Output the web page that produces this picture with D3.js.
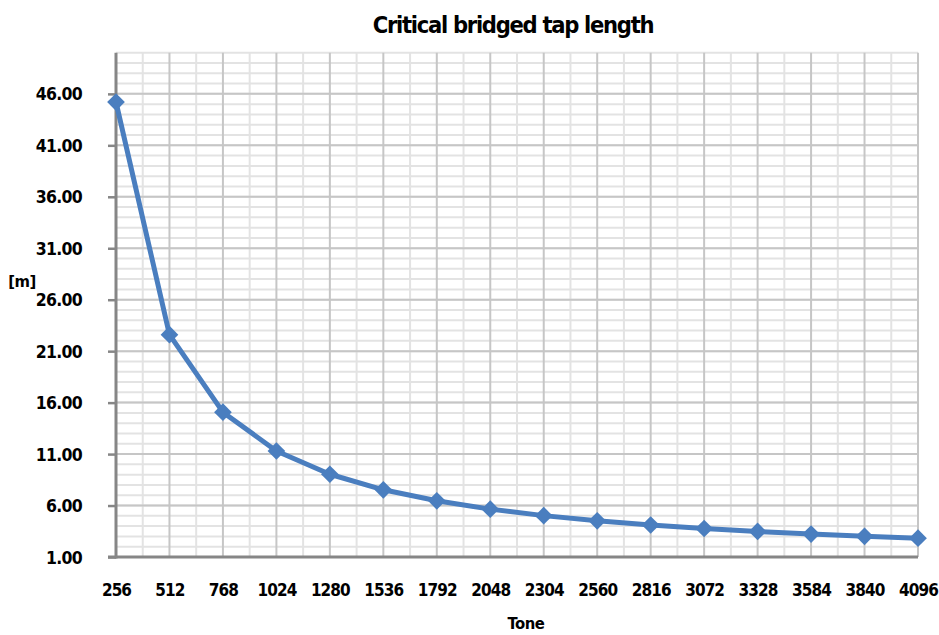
<!DOCTYPE html>
<html><head><meta charset="utf-8">
<script src="https://cdn.jsdelivr.net/npm/d3@7"></script>
<style>
body{margin:0;background:#fff;}
text{font-family:"DejaVu Sans Condensed","Liberation Sans Narrow",sans-serif;font-stretch:condensed;font-weight:bold;fill:#000;}
</style></head>
<body><svg id="c" width="939" height="635"></svg>
<script>
const tones = [256,512,768,1024,1280,1536,1792,2048,2304,2560,2816,3072,3328,3584,3840,4096];
const lengths = [45.2,22.6,15.07,11.3,9.04,7.53,6.46,5.65,5.02,4.52,4.11,3.77,3.48,3.23,3.01,2.83];
const yTicks = [1,6,11,16,21,26,31,36,41,46];
const yMinor = d3.range(1,51,1);
const title = "Critical bridged tap length";
const xTitle = "Tone";
const yTitle = "[m]";

const svg = d3.select("#c");
const L=116, R=918, T=52.7, B=557;
const x = d3.scalePoint().domain(tones).range([L,R]);
const y = d3.scaleLinear().domain([1,50]).range([B,T]);
const step = x.step();

const g = svg.append("g");
g.selectAll(".hmin").data(yMinor).enter().append("line")
 .attr("x1",L).attr("x2",R).attr("y1",d=>y(d)).attr("y2",d=>y(d))
 .attr("stroke","#e3e3e3").attr("stroke-width",2);
g.selectAll(".vmin").data(tones.slice(0,-1)).enter().append("line")
 .attr("x1",d=>x(d)+step/2).attr("x2",d=>x(d)+step/2).attr("y1",T).attr("y2",B)
 .attr("stroke","#e3e3e3").attr("stroke-width",2);
g.selectAll(".hmaj").data(yTicks).enter().append("line")
 .attr("x1",L).attr("x2",R).attr("y1",d=>y(d)).attr("y2",d=>y(d))
 .attr("stroke","#c6c6c6").attr("stroke-width",2);
g.selectAll(".vmaj").data(tones.slice(1)).enter().append("line")
 .attr("x1",d=>x(d)).attr("x2",d=>x(d)).attr("y1",T).attr("y2",B)
 .attr("stroke","#c6c6c6").attr("stroke-width",2);

const ya = svg.append("g").attr("transform",`translate(${L},0)`)
 .call(d3.axisLeft(y).tickValues(yTicks).tickSize(8).tickPadding(26).tickFormat(d3.format(".2f")));
ya.select(".domain").attr("stroke","#868686").attr("stroke-width",3).attr("d",`M0,${T}V${B+1.5}`);
ya.selectAll(".tick line").attr("stroke","#868686").attr("stroke-width",2.5);
ya.selectAll(".tick text").style("font-size","17.5px").style("letter-spacing","-0.7px").attr("dy","0.35em");

const xa = svg.append("g").attr("transform",`translate(0,${B})`)
 .call(d3.axisBottom(x).tickSize(0).tickPadding(27));
xa.select(".domain").attr("stroke","#868686").attr("stroke-width",3).attr("d",`M${L-8},0H${R}`);
xa.selectAll(".tick text").style("font-size","17px").style("letter-spacing","-0.9px");

svg.append("path").datum(tones.map((t,i)=>[t,lengths[i]]))
 .attr("fill","none").attr("stroke","#4a7ebf").attr("stroke-width",5).attr("stroke-linejoin","round")
 .attr("d",d3.line().x(d=>x(d[0])).y(d=>y(d[1])));
svg.selectAll(".pt").data(tones).enter().append("path")
 .attr("transform",(d,i)=>`translate(${x(d)},${y(lengths[i])})`)
 .attr("d",d3.symbol().type(d3.symbolDiamond2).size(200))
 .attr("fill","#4a7ebf");

svg.append("text").attr("x",513).attr("y",33).attr("text-anchor","middle").style("font-size","23.5px").style("letter-spacing","-1.3px").text(title);
svg.append("text").attr("x",526).attr("y",629).attr("text-anchor","middle").style("font-size","16.5px").style("letter-spacing","-0.5px").text(xTitle);
svg.append("text").attr("x",22).attr("y",287).attr("text-anchor","middle").style("font-size","16.5px").style("letter-spacing","-0.5px").text(yTitle);
</script></body></html>
